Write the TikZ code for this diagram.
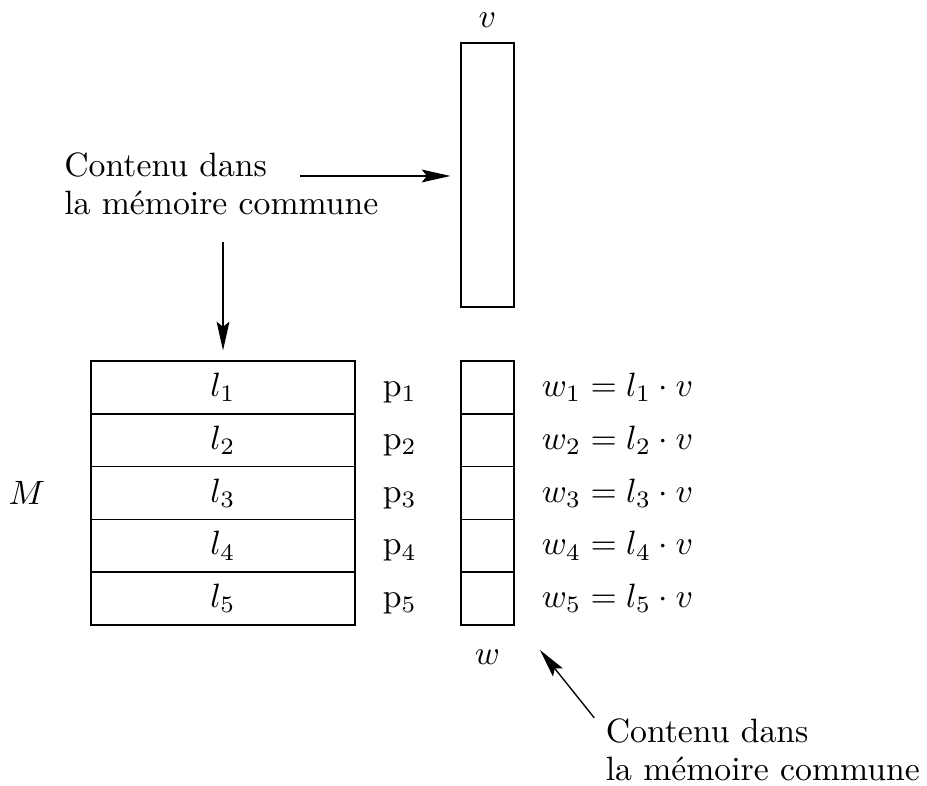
\documentclass[tikz,border=0pt]{standalone}
\usepackage{fontspec}
\usetikzlibrary{arrows.meta,positioning}
\tikzset{
  cell/.style={draw,line width=0.45pt,inner sep=0pt,outer sep=0pt},
  rowbox/.style={cell,minimum width=2.75cm,minimum height=0.55cm},
  sqbox/.style={cell,minimum width=0.552cm,minimum height=0.55cm},
  lbl/.style={inner sep=0pt,outer sep=0pt},
  note/.style={lbl,align=left,anchor=north west},
  arr/.style={-{Stealth[length=8.5pt,width=3.8pt,inset=1.5pt]},line width=0.4pt},
}
\begin{document}
\begin{tikzpicture}
  \useasboundingbox (0,0) rectangle (9.656,8.177);
  % vecteur v
  \node[cell,minimum width=0.552cm,minimum height=2.75cm] (vcol) at (5.078,6.354) {};
  \node[lbl,above=0.165cm of vcol] (vlab) {$v$};
  % matrice M
  \node[rowbox] (r1) at (2.323,4.142) {$l_1$};
  \foreach \i [count=\j] in {2,...,5} { \node[rowbox,below=0pt of r\j] (r\i) {$l_\i$}; }
  \node[lbl,left=0.48cm of r3] (mlab) {$M$};
  % processeurs et resultat w
  \foreach \i in {1,...,5} {
    \node[lbl,right=0.29cm of r\i.base east,anchor=base west] (p\i) {p$_\i$};
    \node[sqbox] (w\i) at (vcol |- r\i) {};
    \node[lbl,anchor=base west] (e\i) at ([xshift=0.29cm]w\i.east |- r\i.base) {$w_\i = l_\i\cdot v$};
  }
  \node[lbl,below=0.26cm of w5] (wlab) {$w$};
  % memoire commune
  \node[note] (nt) at (0.67,6.588) {Contenu dans\\[-0.7pt]la mémoire commune};
  \node[note] (nb) at (6.31,0.687) {Contenu dans\\[-0.7pt]la mémoire commune};
  \coordinate (a1) at (3.125,6.344);
  \coordinate (a2) at (2.323,5.656);
  \coordinate (a3) at (6.19,0.70);
  \coordinate (b3) at (5.625,1.406);
  \draw[arr,shorten >=0.11cm] (a1) -- (vcol.west |- a1);
  \draw[arr,shorten >=0.11cm] (a2) -- (r1.north);
  \draw[arr] (a3) -- (b3);
\end{tikzpicture}
\end{document}
